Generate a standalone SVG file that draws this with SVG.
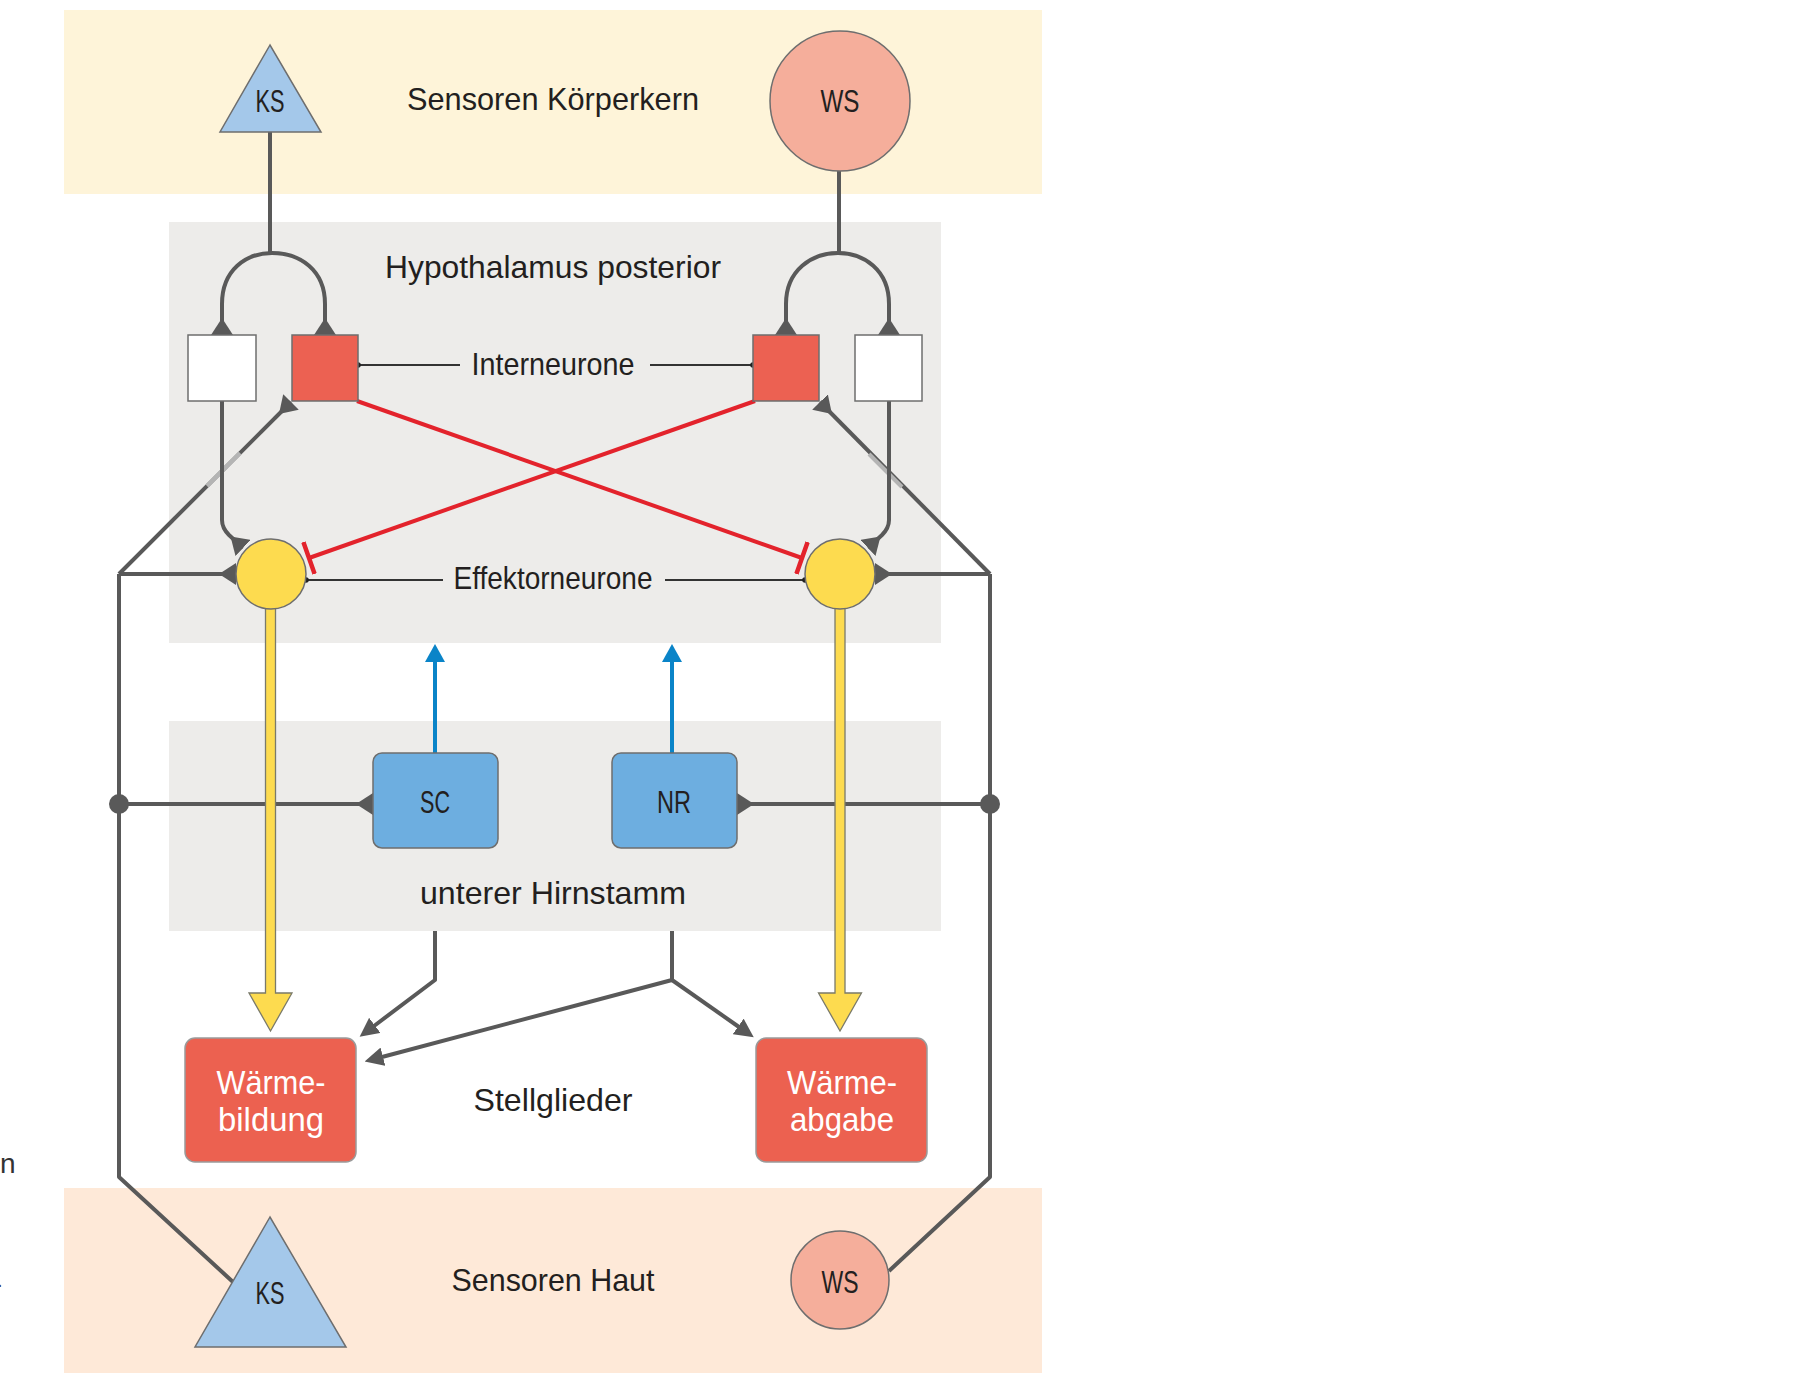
<svg xmlns="http://www.w3.org/2000/svg" width="1812" height="1394" viewBox="0 0 1812 1394">
<style>
  .lbl { font-family: "Liberation Sans", Arial, sans-serif; font-size: 32px; fill: #231f20; text-anchor: middle; }
  .wlbl { font-family: "Liberation Sans", Arial, sans-serif; font-size: 33px; fill: #ffffff; text-anchor: middle; }
  .gl { fill: none; stroke: #595959; stroke-width: 4; stroke-linejoin: round; }
  .thin { fill: none; stroke: #333333; stroke-width: 2; }
  .red { fill: none; stroke: #e3232c; stroke-width: 4; }
  .blue { fill: none; stroke: #0a84c8; stroke-width: 4; }
  .yarrow { fill: #fddb4f; stroke: #7a7a6a; stroke-width: 1.3; stroke-linejoin: miter; }
  .band { stroke: none; }
  .nodeStroke { stroke: #6e6e6e; stroke-width: 1.5; }
</style>
<defs>
  <marker id="syn" markerUnits="userSpaceOnUse" viewBox="0 0 17 22" refX="17" refY="11" markerWidth="17" markerHeight="22" orient="auto">
    <path d="M0,11 L17,0 L17,22 Z" fill="#595959"/>
  </marker>
  <marker id="arr" markerUnits="userSpaceOnUse" viewBox="0 0 19 19" refX="1" refY="9.5" markerWidth="19" markerHeight="19" orient="auto">
    <path d="M0,0 L19,9.5 L0,19 Z" fill="#595959"/>
  </marker>
  <marker id="barr" markerUnits="userSpaceOnUse" viewBox="0 0 18 20" refX="1" refY="10" markerWidth="18" markerHeight="20" orient="auto">
    <path d="M0,0 L18,10 L0,20 Z" fill="#0a84c8"/>
  </marker>
  <marker id="tbar" markerUnits="userSpaceOnUse" viewBox="-3 0 6 34" refX="0" refY="17" markerWidth="6" markerHeight="34" orient="auto">
    <path d="M0,0 L0,34" stroke="#e3232c" stroke-width="4.5" fill="none"/>
  </marker>
</defs>

<rect width="1812" height="1394" fill="#ffffff"/>

<!-- background bands -->
<g id="bands">
  <rect class="band" x="64" y="10" width="978" height="184" fill="#fef4d9"/>
  <rect class="band" x="169" y="222" width="772" height="421" fill="#edecea"/>
  <rect class="band" x="169" y="721" width="772" height="210" fill="#edecea"/>
  <rect class="band" x="64" y="1188" width="978" height="185" fill="#fee9d8"/>
</g>

<!-- stray text fragments at left edge -->
<text x="0" y="1173" style="font-family:'Liberation Sans',Arial,sans-serif;font-size:28px;fill:#333333">n</text>
<text x="-3" y="1287" style="font-family:'Liberation Sans',Arial,sans-serif;font-size:20px;fill:#333333">.</text>

<!-- connectors -->
<g id="connectors">
  <!-- sensor core lines and forks -->
  <path class="gl" d="M270,132 V253"/>
  <path class="gl" d="M272,253 C246,253 222,270 222,304 V335" marker-end="url(#syn)"/>
  <path class="gl" d="M272,253 C300,253 325,270 325,304 V335" marker-end="url(#syn)"/>
  <path class="gl" d="M839,171 V253"/>
  <path class="gl" d="M838,253 C812,253 786,270 786,304 V335" marker-end="url(#syn)"/>
  <path class="gl" d="M838,253 C864,253 889,270 889,304 V335" marker-end="url(#syn)"/>

  <!-- skin sensor pathways (outer) -->
  <path class="gl" d="M119,574 L291,402" marker-end="url(#syn)"/>
  <path d="M207,486 L240,453" stroke="#b4b4b4" stroke-width="4"/>
  <path class="gl" d="M990,574 L820,402" marker-end="url(#syn)"/>
  <path d="M902,487 L869,454" stroke="#b4b4b4" stroke-width="4"/>

  <!-- white boxes to effector neurones -->
  <path class="gl" d="M222,401 V520 Q222,528 229,535 L243,548" marker-end="url(#syn)"/>
  <path class="gl" d="M889,401 V520 Q889,528 882,535 L868,548" marker-end="url(#syn)"/>

  <!-- horizontal to effector neurones -->
  <path class="gl" d="M119,574 H236" marker-end="url(#syn)"/>
  <path class="gl" d="M990,574 H875" marker-end="url(#syn)"/>

  <!-- outer verticals down to skin sensors -->
  <path class="gl" d="M119,574 V1177 L233,1282"/>
  <path class="gl" d="M990,574 V1177 L889,1271"/>

  <!-- brainstem horizontals -->
  <path class="gl" d="M119,804 H373" marker-end="url(#syn)"/>
  <path class="gl" d="M990,804 H737" marker-end="url(#syn)"/>
  <circle cx="119" cy="804" r="10" fill="#595959"/>
  <circle cx="990" cy="804" r="10" fill="#595959"/>

  <!-- blue arrows up -->
  <path class="blue" d="M435,753 V661" marker-end="url(#barr)"/>
  <path class="blue" d="M672,753 V661" marker-end="url(#barr)"/>

  <!-- brainstem to effectors -->
  <path class="gl" d="M435,931 V980 L374,1026" marker-end="url(#arr)"/>
  <path class="gl" d="M672,931 V980 L382,1057" marker-end="url(#arr)"/>
  <path class="gl" d="M672,980 L739,1027" marker-end="url(#arr)"/>

  <!-- red inhibitory -->
  <path class="red" d="M357,401 L802,558" marker-end="url(#tbar)"/>
  <path class="red" d="M755,401 L309,558" marker-end="url(#tbar)"/>

  <!-- label leader lines -->
  <path class="thin" d="M358,365 H460"/>
  <path class="thin" d="M650,365 H753"/>
  <circle cx="358" cy="365" r="2.8" fill="#222"/>
  <circle cx="753" cy="365" r="2.8" fill="#222"/>
  <path class="thin" d="M306,580 H443"/>
  <path class="thin" d="M665,580 H805"/>
  <circle cx="306" cy="580" r="2.8" fill="#222"/>
  <circle cx="805" cy="580" r="2.8" fill="#222"/>

  <!-- yellow effector output arrows -->
  <polygon class="yarrow" points="265.5,600 275.5,600 275.5,993 292,993 270.5,1031 249,993 265.5,993"/>
  <polygon class="yarrow" points="835,600 845,600 845,993 861.5,993 840,1031 818.5,993 835,993"/>
</g>

<!-- nodes -->
<g id="ks-core">
  <polygon points="270,45 220,132 321,132" fill="#a4c8ea" class="nodeStroke"/>
  <text class="lbl" x="270" y="112" textLength="29" lengthAdjust="spacingAndGlyphs">KS</text>
</g>
<g id="ws-core">
  <circle cx="840" cy="101" r="70" fill="#f5ae9b" class="nodeStroke"/>
  <text class="lbl" x="840" y="112" textLength="39" lengthAdjust="spacingAndGlyphs">WS</text>
</g>
<g id="label-core">
  <text class="lbl" x="553" y="110" textLength="292" lengthAdjust="spacingAndGlyphs">Sensoren Körperkern</text>
</g>
<g id="label-hypothalamus">
  <text class="lbl" x="553" y="278" textLength="336" lengthAdjust="spacingAndGlyphs">Hypothalamus posterior</text>
</g>
<g id="white-left"><rect x="188" y="335" width="68" height="66" fill="#ffffff" class="nodeStroke"/></g>
<g id="inter-left"><rect x="292" y="335" width="66" height="66" fill="#ec6152" class="nodeStroke"/></g>
<g id="inter-right"><rect x="753" y="335" width="66" height="66" fill="#ec6152" class="nodeStroke"/></g>
<g id="white-right"><rect x="855" y="335" width="67" height="66" fill="#ffffff" class="nodeStroke"/></g>
<g id="label-interneurone">
  <text class="lbl" x="553" y="375" textLength="163" lengthAdjust="spacingAndGlyphs">Interneurone</text>
</g>
<g id="effector-left"><circle cx="271" cy="574" r="35" fill="#fddb4f" class="nodeStroke"/></g>
<g id="effector-right"><circle cx="840" cy="574" r="35" fill="#fddb4f" class="nodeStroke"/></g>
<g id="label-effektor">
  <text class="lbl" x="553" y="589" textLength="199" lengthAdjust="spacingAndGlyphs">Effektorneurone</text>
</g>
<g id="sc">
  <rect x="373" y="753" width="125" height="95" rx="9" fill="#6daee0" class="nodeStroke"/>
  <text class="lbl" x="435" y="813" textLength="30" lengthAdjust="spacingAndGlyphs">SC</text>
</g>
<g id="nr">
  <rect x="612" y="753" width="125" height="95" rx="9" fill="#6daee0" class="nodeStroke"/>
  <text class="lbl" x="674" y="813" textLength="34" lengthAdjust="spacingAndGlyphs">NR</text>
</g>
<g id="label-hirnstamm">
  <text class="lbl" x="553" y="904" textLength="266" lengthAdjust="spacingAndGlyphs">unterer Hirnstamm</text>
</g>
<g id="waermebildung">
  <rect x="185" y="1038" width="171" height="124" rx="10" fill="#ec6150" stroke="#9a9a9a" stroke-width="1.5"/>
  <text class="wlbl" x="271" y="1094" textLength="109" lengthAdjust="spacingAndGlyphs">Wärme-</text>
  <text class="wlbl" x="271" y="1131" textLength="106" lengthAdjust="spacingAndGlyphs">bildung</text>
</g>
<g id="label-stellglieder">
  <text class="lbl" x="553" y="1111" textLength="159" lengthAdjust="spacingAndGlyphs">Stellglieder</text>
</g>
<g id="waermeabgabe">
  <rect x="756" y="1038" width="171" height="124" rx="10" fill="#ec6150" stroke="#9a9a9a" stroke-width="1.5"/>
  <text class="wlbl" x="842" y="1094" textLength="110" lengthAdjust="spacingAndGlyphs">Wärme-</text>
  <text class="wlbl" x="842" y="1131" textLength="104" lengthAdjust="spacingAndGlyphs">abgabe</text>
</g>
<g id="ks-skin">
  <polygon points="270,1217 195,1347 346,1347" fill="#a4c8ea" class="nodeStroke"/>
  <text class="lbl" x="270" y="1304" textLength="29" lengthAdjust="spacingAndGlyphs">KS</text>
</g>
<g id="label-haut">
  <text class="lbl" x="553" y="1291" textLength="203" lengthAdjust="spacingAndGlyphs">Sensoren Haut</text>
</g>
<g id="ws-skin">
  <circle cx="840" cy="1280" r="49" fill="#f5ae9b" class="nodeStroke"/>
  <text class="lbl" x="840" y="1293" textLength="37" lengthAdjust="spacingAndGlyphs">WS</text>
</g>
</svg>
